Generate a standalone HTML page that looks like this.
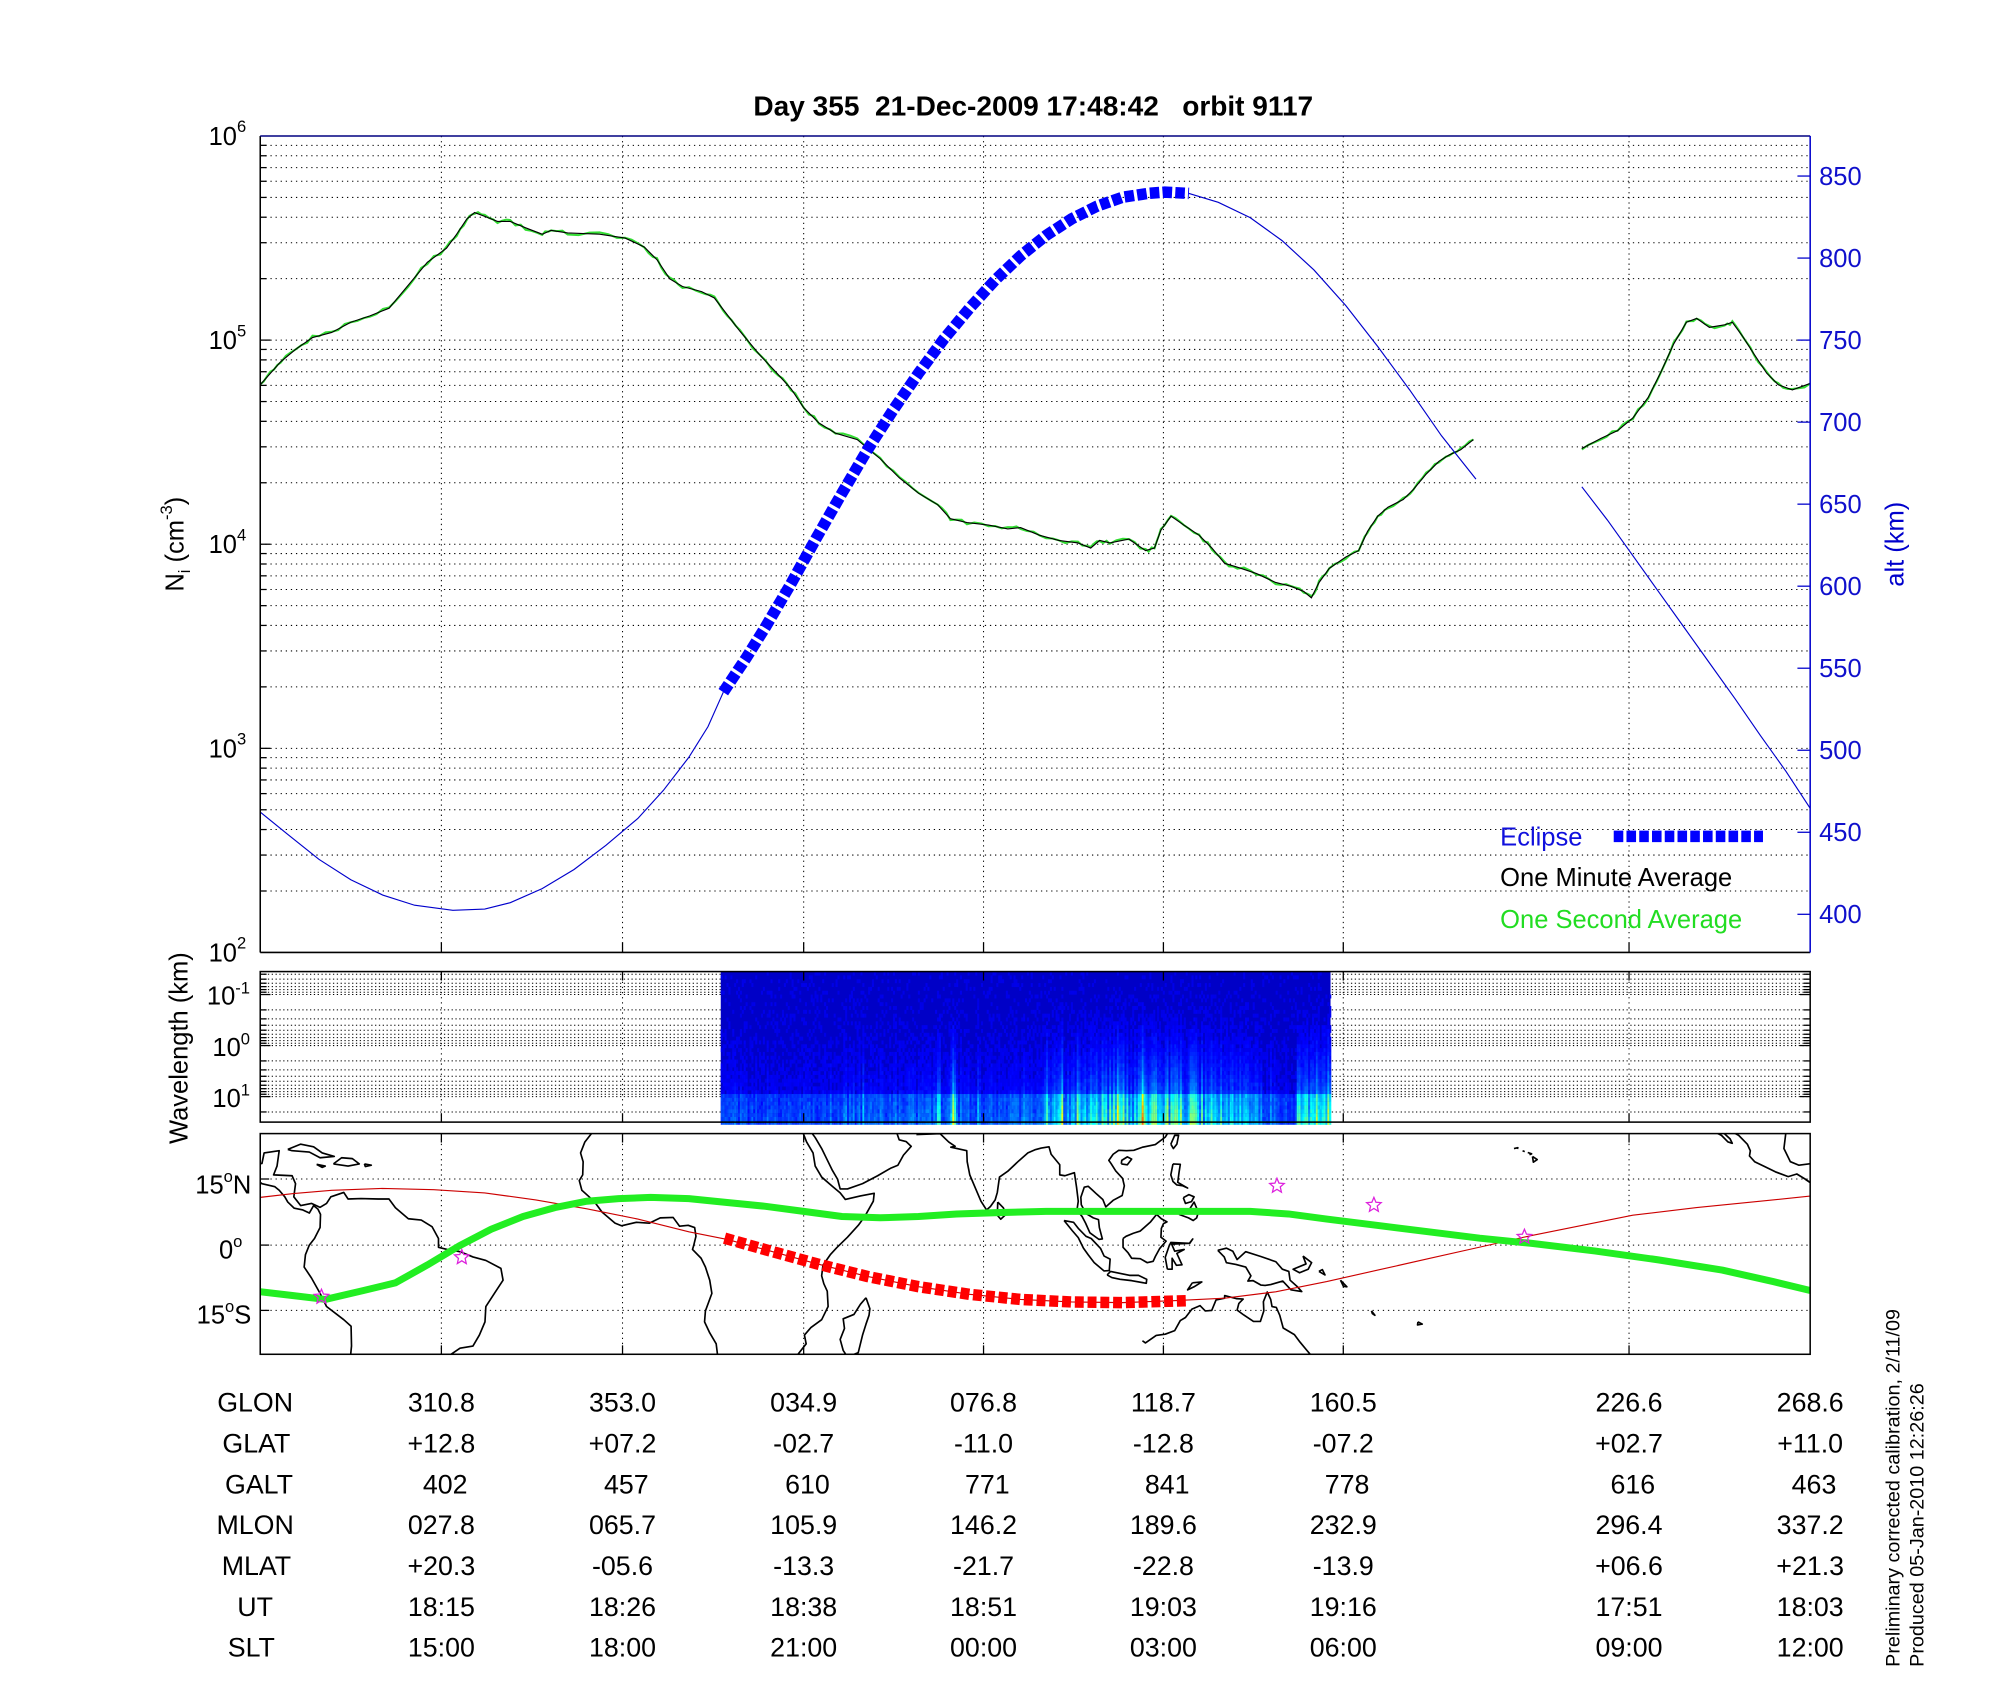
<!DOCTYPE html>
<html><head><meta charset="utf-8">
<style>
html,body{margin:0;padding:0;background:#fff;}
svg{display:block;}
text{font-family:"Liberation Sans",Arial,sans-serif;}
</style></head>
<body>
<svg id="s" xmlns="http://www.w3.org/2000/svg" width="2000" height="1700" viewBox="0 -1.6 1567.8 1332.6" preserveAspectRatio="none">
<rect x="0" y="-2" width="1570" height="1340" fill="#fff"/>
<defs>
<clipPath id="mapclip"><rect x="204" y="887" width="1215" height="173"/></clipPath>
<clipPath id="mainclip"><rect x="204" y="105" width="1215" height="640"/></clipPath>
</defs>
<g id="grid"></g>
<g id="spec"></g>
<g id="curves"></g>
<g id="map" clip-path="url(#mapclip)"></g>
<g id="frames"></g>

<text x="810" y="89" font-size="22" font-weight="bold" text-anchor="middle" xml:space="preserve">Day 355  21-Dec-2009 17:48:42   orbit 9117</text>

<g font-size="20" text-anchor="end">
<text x="193" y="112">10<tspan font-size="13" dy="-10">6</tspan></text>
<text x="193" y="272">10<tspan font-size="13" dy="-10">5</tspan></text>
<text x="193" y="432">10<tspan font-size="13" dy="-10">4</tspan></text>
<text x="193" y="592">10<tspan font-size="13" dy="-10">3</tspan></text>
<text x="193" y="752">10<tspan font-size="13" dy="-10">2</tspan></text>
</g>
<text transform="translate(144,425) rotate(-90)" font-size="20" text-anchor="middle">N<tspan font-size="13" dy="5">i</tspan><tspan dy="-5"> (cm</tspan><tspan font-size="13" dy="-9">-3</tspan><tspan dy="9">)</tspan></text>
<text transform="translate(1492,425) rotate(-90)" font-size="20" text-anchor="middle" fill="#0000cc">alt (km)</text>

<g font-size="20" fill="#1010cc" id="altlabels"></g>

<text x="1176" y="661" font-size="20" fill="#1010dd">Eclipse</text>
<line x1="1265" y1="654" x2="1382" y2="654" stroke="#0000ff" stroke-width="9" stroke-dasharray="7.5,2.5"/>
<text x="1176" y="693" font-size="20" fill="#000">One Minute Average</text>
<text x="1176" y="726" font-size="20" fill="#22dd22">One Second Average</text>

<g font-size="20" text-anchor="end">
<text x="196" y="786">10<tspan font-size="13" dy="-9">-1</tspan></text>
<text x="196" y="826">10<tspan font-size="13" dy="-9">0</tspan></text>
<text x="196" y="866">10<tspan font-size="13" dy="-9">1</tspan></text>
</g>
<text transform="translate(147,820) rotate(-90)" font-size="20" text-anchor="middle">Wavelength (km)</text>

<g font-size="20" text-anchor="end">
<text x="197" y="934">15<tspan font-size="13" dy="-9">o</tspan><tspan dy="9">N</tspan></text>
<text x="190" y="985">0<tspan font-size="13" dy="-9">o</tspan></text>
<text x="197" y="1036">15<tspan font-size="13" dy="-9">o</tspan><tspan dy="9">S</tspan></text>
</g>

<g font-size="21" text-anchor="middle" id="table"></g>

<text transform="translate(1489,1305) rotate(-90)" font-size="15.5">Preliminary corrected calibration, 2/11/09</text>
<text transform="translate(1508,1305) rotate(-90)" font-size="15.5">Produced 05-Jan-2010 12:26:26</text>
</svg>
<script>
(function(){
var NS="http://www.w3.org/2000/svg";
function el(p,tag,attrs,txt){var e=document.createElementNS(NS,tag);for(var k in attrs)e.setAttribute(k,attrs[k]);if(txt!==undefined)e.textContent=txt;p.appendChild(e);return e;}
var G=document.getElementById('grid'),F=document.getElementById('frames'),C=document.getElementById('curves'),S=document.getElementById('spec'),M=document.getElementById('map');
var L=204,R=1419,T=105,B=745;
var xg=[346,488,630,771,912,1053,1277];
var dot={stroke:"#000","stroke-width":"0.8","stroke-dasharray":"1,3"};
for(var d=0;d<4;d++){var base=B-160*d;for(var m=1;m<=9;m++){var y=base-160*Math.log10(m);if(m==1&&d==0)continue;
 el(G,'line',Object.assign({x1:L,x2:R,y1:y,y2:y},dot));
 el(F,'line',{x1:L,x2:L+(m==1?8:5),y1:y,y2:y,stroke:"#000","stroke-width":1});}}
xg.forEach(function(x){el(G,'line',Object.assign({x1:x,x2:x,y1:T,y2:B},dot));
 el(F,'line',{x1:x,x2:x,y1:B,y2:B-8,stroke:"#000","stroke-width":1});});
var AL=document.getElementById('altlabels');
for(var a=400;a<=850;a+=50){var y=136.4+(850-a)/50*64.3;
 el(F,'line',{x1:R-10,x2:R,y1:y,y2:y,stroke:"#0000cc","stroke-width":1});
 el(AL,'text',{x:1426,y:y+7},String(a));}
el(F,'line',{x1:L,y1:B,x2:R,y2:B,stroke:"#000","stroke-width":1.2});
el(F,'line',{x1:L,y1:T,x2:L,y2:B,stroke:"#000","stroke-width":1.2});
el(F,'line',{x1:L,y1:T,x2:R,y2:T,stroke:"#000080","stroke-width":1.2});
el(F,'line',{x1:R,y1:T,x2:R,y2:B,stroke:"#0000cc","stroke-width":1.2});

var sT=760,sB=878;
function specY(v){return 818+40*Math.log10(v);}
var vals=[];for(var e=-2;e<=1;e++)for(var m=1;m<=9;m++)vals.push(m*Math.pow(10,e));
vals.forEach(function(v){var y=specY(v);if(y<sT+1||y>sB-1)return;
 el(G,'line',{x1:L,x2:R,y1:y,y2:y,stroke:"#000","stroke-width":"0.8","stroke-dasharray":"1,2"});
 var maj=Math.abs(Math.log10(v)-Math.round(Math.log10(v)))<1e-6;
 el(F,'line',{x1:L,x2:L+(maj?8:5),y1:y,y2:y,stroke:"#000","stroke-width":1});
 el(F,'line',{x1:R,x2:R-(maj?8:5),y1:y,y2:y,stroke:"#000","stroke-width":1});});
xg.forEach(function(x){el(G,'line',Object.assign({x1:x,x2:x,y1:sT,y2:sB},dot));
 el(F,'line',{x1:x,x2:x,y1:sB,y2:sB-7,stroke:"#000","stroke-width":1});el(F,'line',{x1:x,x2:x,y1:sT,y2:sT+7,stroke:"#000","stroke-width":1});});
el(F,'rect',{x:L,y:sT,width:R-L,height:sB-sT,fill:"none",stroke:"#000","stroke-width":1.2});

var seed=12345;function rnd(){seed=(seed*1103515245+12345)%2147483648;return seed/2147483648;}
function jet(v){v=Math.max(0,Math.min(1,v));function c(x){return Math.round(255*Math.max(0,Math.min(1,x)));}
 return "rgb("+c(1.5-Math.abs(4*v-3))+","+c(1.5-Math.abs(4*v-2))+","+c(1.5-Math.abs(4*v-1))+")";}
el(S,'rect',{x:565,y:sT,width:478,height:sB-sT,fill:jet(0.07)});
function env(x){var e=0.05;
 if(x>800&&x<1000)e+=0.18*Math.sin((x-800)/200*Math.PI)+0.04;
 if(x>1015&&x<1043)e+=0.22;
 if(x>660&&x<800)e+=0.03;
 if(Math.abs(x-735)<1.5||Math.abs(x-747)<1.5)e+=0.3;
 return e;}
for(var x=565;x<1043;x+=1.5){var act=env(x)*(0.3+rnd()*1.0);if(rnd()<0.07)act*=1.7;
 for(var y=sT;y<sB;y+=3){var f=Math.pow((y-sT)/(sB-sT),2.4);var v=0.07+act*f*1.0+rnd()*0.035;
  if(y>=856)v+=0.03+act*0.3+rnd()*0.04;
  if(v>0.1)el(S,'rect',{x:x,y:y,width:1.6,height:3.1,fill:jet(v)});}}

var dp=[[204,300],[212,291],[220,282],[232,272],[245,263],[260,259],[275,251],[290,246],[305,240],[320,222],[335,204],[350,193],[358,182],[366,170],[372,165],[380,168],[390,172],[400,172],[412,177],[425,182],[432,179],[445,181],[470,182],[490,185],[505,192],[515,202],[525,217],[535,223],[550,227],[560,232],[570,245],[580,258],[595,276],[610,292],[620,303],[630,318],[642,330],[655,338],[672,343],[690,358],[705,373],[720,385],[735,394],[745,405],[758,408],[775,410],[790,413],[800,412],[815,418],[830,422],[845,424],[855,428],[862,422],[870,424],[885,421],[898,430],[905,428],[910,414],[918,403],[928,410],[940,418],[950,428],[960,440],[970,443],[985,448],[1000,455],[1012,458],[1022,462],[1028,467],[1034,455],[1042,444],[1055,435],[1065,430],[1072,415],[1080,403],[1088,396],[1100,390],[1108,382],[1118,370],[1128,360],[1136,355],[1145,351],[1155,343]];
var dp2=[[1240,350],[1255,342],[1268,336],[1280,326],[1292,310],[1302,290],[1312,268],[1322,251],[1330,248],[1340,255],[1352,253],[1358,251],[1366,262],[1375,276],[1385,291],[1394,300],[1405,304],[1419,299]];
function pts(a){return a.map(function(p){return p[0]+","+p[1];}).join(" ");}
function jit(a){var o=[];for(var i=0;i<a.length-1;i++){var p=a[i],q=a[i+1];for(var t=0;t<1;t+=0.34){o.push([p[0]+(q[0]-p[0])*t,p[1]+(q[1]-p[1])*t+(rnd()-0.5)*3]);}}o.push(a[a.length-1]);return o;}
var CC=el(C,'g',{"clip-path":"url(#mainclip)"});
[dp,dp2].forEach(function(a){el(CC,'polyline',{points:pts(jit(a)),fill:"none",stroke:"#33dd33","stroke-width":1.6});
 el(CC,'polyline',{points:pts(a),fill:"none",stroke:"#000","stroke-width":0.9});});
var al1=[[204,635],[225,652],[250,672],[275,688],[300,700],[325,708],[355,712],[380,711],[400,706],[425,695],[450,680],[475,661],[500,640],[520,618],[540,592],[555,568],[567,541]];
var ecl=[[567,541],[585,514],[600,490],[620,456],[640,420],[660,385],[680,351],[700,320],[720,291],[740,264],[760,240],[780,218],[800,199],[820,183],[840,170],[860,160],[880,153],[900,150],[913,149],[932,150]];
var al2=[[932,150],[955,157],[980,169],[1005,187],[1030,210],[1055,238],[1080,270],[1105,304],[1130,340],[1157,374]];
var al3=[[1240,380],[1260,406],[1280,434],[1300,462],[1320,490],[1340,518],[1360,546],[1380,575],[1400,603],[1419,632]];
[al1,al2,al3].forEach(function(a){el(CC,'polyline',{points:pts(a),fill:"none",stroke:"#0000cc","stroke-width":0.9});});
el(CC,'polyline',{points:pts(ecl),fill:"none",stroke:"#0000ff","stroke-width":9,"stroke-dasharray":"7.5,2.5"});

var mT=887,mB=1060;
[922.6,974.4,1025.6].forEach(function(y){el(G,'line',Object.assign({x1:L,x2:R,y1:y,y2:y},dot));el(F,'line',{x1:L,x2:L+7,y1:y,y2:y,stroke:"#000","stroke-width":1});});
xg.forEach(function(x){el(G,'line',Object.assign({x1:x,x2:x,y1:mT,y2:mB},dot));
 el(F,'line',{x1:x,x2:x,y1:mB,y2:mB-7,stroke:"#000","stroke-width":1});el(F,'line',{x1:x,x2:x,y1:mT,y2:mT+7,stroke:"#000","stroke-width":1});});
el(F,'rect',{x:L,y:mT,width:R-L,height:mB-mT,fill:"none",stroke:"#000","stroke-width":1.2});
function P(lon,lat){return [204+(lon+91.4)*3.375,974.4-lat*3.44];}
var coasts=[
 [[-97,26],[-97.5,22],[-96,19],[-94,18.2],[-91,18.6],[-90.5,21],[-87,21.5],[-87.5,18],[-88.3,16],[-84,15.8],[-83.2,14],[-83.6,11],[-82,9],[-79.5,9.5],[-77.5,8.6],[-76,9.5],[-75,11],[-72,12],[-71,10.5],[-68,10.6],[-64,10.5],[-61.5,10.5],[-60,8.5],[-57,6],[-54,5.7],[-51.5,4.2],[-50,1.5],[-50,-0.5],[-48,-1],[-45,-1.5],[-42,-2.7],[-39,-3.5],[-35.5,-5.3],[-35,-8],[-37,-11],[-39,-14],[-39.2,-17.5],[-40.5,-20.5],[-42,-23],[-45,-23.5],[-48,-25.5],[-48.5,-28]],
 [[-92.5,15],[-91,14],[-88,13.3],[-87,12.5],[-85.7,11],[-85,9.8],[-83.5,8.4],[-81.5,8],[-80,7.3],[-79,9],[-78,8.2],[-77.4,7],[-77.5,4],[-78.8,1.5],[-80,0],[-80.9,-2.2],[-81.2,-5],[-79.5,-7.5],[-77.5,-11],[-76,-14],[-72,-17],[-70.3,-18.5],[-70.2,-23],[-70.6,-27]],
 [[-85,21.8],[-82,23],[-79,22.4],[-77,21],[-74.2,20.2],[-77.5,19.9],[-80,21.2],[-84,21.5],[-85,21.8]],
 [[-74.4,18.5],[-72.5,19.9],[-70,19.7],[-68.4,18.5],[-71,18],[-74.4,18.5]],
 [[-78.3,18.4],[-76.3,18],[-77,17.7],[-78.3,18.4]],
 [[-67.2,18.5],[-65.6,18.2],[-67,17.9],[-67.2,18.5]],
 [[-14,26],[-16,23.5],[-17,21],[-16.4,19],[-16.5,16],[-17.3,14.7],[-16.7,12.5],[-15,11],[-13.5,9.5],[-12,7.5],[-9,5],[-7.5,4.4],[-4,5.2],[-1,5],[1.5,6.2],[4.5,6.3],[6,4.3],[8,4.5],[9.5,4],[9.8,2],[9.3,0],[9,-1],[11,-3],[12,-5],[13,-8],[13.5,-11],[12,-15],[11.8,-17.5],[13,-20],[14.5,-22.5],[15,-26.5]],
 [[32.5,29],[34.5,26],[35.5,23.5],[37,21],[37.5,18],[39,15.5],[41.6,13.3],[43.3,11.9],[44.5,10.4],[48,11.2],[51.2,11.8],[51,10],[49,6.5],[47.5,4.5],[45,1.8],[42.5,-0.6],[41,-2.2],[39.3,-4.6],[39,-7],[39.5,-8.8],[40.3,-10.5],[40.5,-14],[39,-17],[36.5,-18.8],[35,-20.5],[35.4,-22.5],[33,-25.5],[32.8,-27]],
 [[34.8,28],[36,26.5],[37.5,24.5],[39,22],[40,20],[41.5,17],[42.7,15],[43.3,12.8],[45,12.8],[48.5,14],[52,15.8],[55,17.5],[56.7,18.2],[58,20.5],[59.8,22.5],[58.6,23.6],[57,24],[56.3,26]],
 [[49.3,-12],[50.2,-14.5],[50,-16],[49.3,-18],[48.5,-20.5],[47.5,-24.5],[45,-25.5],[44,-24],[43.3,-21.5],[44.3,-19],[44,-16.8],[46.5,-15.8],[48,-13.5],[49.3,-12]],
 [[61,25.2],[66.5,25.4],[68.5,23.5],[70,22.5],[69,22.3],[72.7,21.5],[72.8,19],[73.4,16],[74.7,13],[76,10],[77.3,8],[78.2,8.8],[79.3,10.3],[79.8,12],[80.3,15.5],[82.2,16.8],[84.8,19.2],[86.9,21],[88.5,21.7],[90,22.1],[91.8,22.4],[92.3,20.7],[94.3,18.3],[94.3,16],[95.5,15.8],[97.7,16.5],[98.2,13.2],[98.6,10],[98.3,8],[99.5,6.5],[100.3,5],[101.3,2.8],[103.4,1.3],[104.2,1.4],[103.5,4],[103.3,5.8],[102.1,6.2],[100.4,7.2],[99.3,9.2],[99.2,10.9],[100,13.2],[100.9,13.4],[101.8,12.6],[102.9,11.6],[104.3,10.4],[105,8.7],[106.7,10.2],[108.8,11.3],[109.3,13.5],[108.9,15.2],[107.3,16.9],[106.2,18.6],[105.7,19.3],[106.7,20.7],[108,21.6],[109.8,21.5],[111.5,21.6],[113.5,22.3],[116.5,22.9],[118.8,24.6],[120,26.5]],
 [[79.9,9.8],[81.2,8.5],[81.8,7],[80.6,5.9],[79.8,6.8],[79.9,9.8]],
 [[95.3,5.6],[97.5,5.2],[98.7,3.7],[100.4,2],[101.6,1.5],[103.8,-0.8],[104.6,-2.5],[106,-3.2],[105.8,-5.8],[104.6,-5.9],[102.3,-4],[100.9,-2.2],[99.8,-0.7],[98.6,1.7],[97.2,3.3],[95.3,5.6]],
 [[105.3,-6.8],[106.1,-6],[108.5,-6.5],[110.5,-6.9],[112.6,-6.9],[114.5,-7.8],[114.4,-8.7],[111,-8.1],[108.3,-7.8],[106.4,-7.4],[105.3,-6.8]],
 [[109,1.5],[109.7,2],[111.4,2.7],[113,3.2],[115.4,5.3],[116.8,7],[117.9,6],[119.2,5.3],[118.4,4.9],[117.9,3.8],[117.8,1.8],[119,0.9],[117.5,-0.8],[116.5,-2.6],[116,-3.7],[114.6,-4],[113,-3.1],[111,-3],[110.2,-1.8],[109,-0.5],[109,1.5]],
 [[119.3,-5.5],[120.4,-5.5],[120.4,-3],[121.4,-4.6],[122.7,-4.5],[121.5,-1.9],[123.2,-1],[121,-1.4],[120.3,0.2],[124.5,0.4],[125.2,1.4],[124.4,0.4],[120.1,0.6],[119.7,-0.2],[118.8,-2.8],[119.3,-5.5]],
 [[120.6,18.5],[122.3,18.4],[122,16.5],[121.7,14.3],[124,13],[122.9,13.5],[121.5,13.7],[120.6,14.5],[120.1,16],[120.6,18.5]],
 [[122,7],[124,7.5],[125.5,9.8],[126.5,7.5],[126.1,6.2],[125.3,5.6],[124.2,6.2],[122,7]],
 [[123,10.8],[124.3,11.5],[125.5,11],[124.9,9.9],[123.5,9.5],[123,10.8]],
 [[120.1,23],[120.7,22],[121.5,23],[121.9,25],[121,25],[120.1,23]],
 [[108.6,18.5],[110,18.3],[111,19.6],[110,20.1],[108.7,19.3],[108.6,18.5]],
 [[131,-1.2],[133,-0.7],[134.5,-1.4],[135.5,-3.3],[137.5,-1.5],[141,-2.6],[144.5,-3.8],[146,-5.5],[147.5,-6],[147.8,-8],[149.5,-9.5],[150.5,-10.6],[148,-10.2],[146.1,-8.2],[143.3,-9],[142,-9.2],[141,-9.1],[139.2,-8.1],[138,-8.2],[138.7,-7],[137.5,-5],[135.2,-4.4],[133,-4],[132.5,-2.7],[131,-1.2]],
 [[113.5,-21.8],[114.2,-22.3],[116.7,-20.6],[118.8,-20.3],[121,-19.5],[122.3,-17.2],[123.5,-16.5],[125,-14.6],[126.9,-13.8],[128.1,-15],[129.6,-14.9],[130.6,-12.5],[132.6,-12.1],[132.6,-11.5],[135.3,-12.2],[136.9,-12.3],[135.9,-13.3],[135.5,-14.8],[137,-15.9],[139.3,-17.4],[140.9,-17.4],[141.7,-15],[141.6,-12.9],[142.5,-10.7],[143.3,-12.4],[143.6,-14],[144.6,-14.2],[145.4,-16],[146.2,-18.9],[148.8,-20.4],[150.1,-22.1],[151.7,-24],[153.1,-25.6],[153.5,-28]],
 [[125.1,-8.6],[127.3,-8.4],[125.5,-9.5],[124,-10.2],[125.1,-8.6]],
 [[150.8,-2.5],[152.8,-4],[152,-5.5],[150,-6.3],[148.5,-5.5],[151.5,-4.3],[150.8,-2.5]],
 [[154.5,-6],[155.9,-6.8],[155.3,-5.6],[154.5,-6]],
 [[159.5,-8],[161,-9.5],[160.2,-9.4],[159.5,-8]],
 [[166.7,-15],[167.5,-16],[166.9,-15.6],[166.7,-15]],
 [[177.5,-17.5],[178.5,-18],[177.4,-18.2],[177.5,-17.5]],
 [[-160.2,22],[-159.3,22.2],[-159.4,21.9]],[[-158.2,21.5],[-157.7,21.3]],[[-157,21.1],[-156.1,20.8],[-156.6,20.6]],[[-155.9,20.2],[-154.8,19.5],[-155.7,18.9],[-155.9,20.2]],
 [[-114,26],[-112,25],[-110.5,23.5],[-109.5,23.2],[-110,24.2],[-112,26]],
 [[-112,28],[-109.5,25.8],[-108,25],[-106,23],[-105.3,21.5],[-105.5,20.3],[-104.3,19],[-102,17.9],[-99.5,16.7],[-96.5,15.6],[-94.5,16.2],[-92.5,15],[-91,14]]
];
var MG=el(M,'g',{});
coasts.forEach(function(c){var p=c.map(function(q){return P(q[0],q[1]);});
 [0,1215,-1215].forEach(function(off){el(MG,'polyline',{points:p.map(function(z){return (z[0]+off)+","+z[1];}).join(" "),fill:"none",stroke:"#000","stroke-width":1.3,"stroke-linejoin":"round"});});});
var red=[[204,937],[230,934],[260,931.5],[300,930],[340,931],[380,933.5],[420,939],[460,946],[500,954],[540,964],[570,970],[600,978],[640,989],[680,999],[720,1007],[760,1013],[800,1017],[840,1019],[880,1019.5],[920,1018],[960,1016],[1000,1011],[1040,1003],[1080,994],[1120,985],[1160,976],[1200,967],[1240,959],[1280,951],[1330,945],[1380,940],[1419,936]];
el(M,'polyline',{points:pts(red),fill:"none",stroke:"#cc0000","stroke-width":0.9});
var redT=[[568,969],[600,978],[640,989],[680,999],[720,1007],[760,1013],[800,1017],[840,1019],[880,1019.5],[931,1018]];
el(M,'polyline',{points:pts(redT),fill:"none",stroke:"#ff0000","stroke-width":9,"stroke-dasharray":"7,3"});
var grn=[[204,1011],[230,1014],[255,1017],[285,1010],[310,1004],[335,990],[360,975],[385,962],[410,952],[435,945],[460,940],[485,938],[510,937],[540,938],[570,941],[600,944],[630,948],[660,952],[690,953],[720,952],[750,950],[780,949],[820,948],[860,948],[900,948],[940,948],[980,948],[1010,950],[1040,954],[1080,959],[1120,964],[1160,969],[1200,973],[1250,979],[1300,986],[1350,994],[1390,1003],[1419,1010]];
el(M,'polyline',{points:pts(grn),fill:"none",stroke:"#22ee22","stroke-width":5.5,"stroke-linejoin":"round"});
function star(cx,cy,r){var s=[];for(var i=0;i<10;i++){var rr=i%2?r*0.45:r;var an=-Math.PI/2+i*Math.PI/5;s.push((cx+rr*Math.cos(an)).toFixed(1)+","+(cy+rr*Math.sin(an)).toFixed(1));}
 el(M,'polygon',{points:s.join(" "),fill:"none",stroke:"#dd22dd","stroke-width":1});}
[[252,1015],[362,984],[1001,928],[1077,943],[1195,968]].forEach(function(p){star(p[0],p[1],6);});

var TB=document.getElementById('table');
var rows=[["GLON","310.8","353.0","034.9","076.8","118.7","160.5","226.6","268.6"],
["GLAT","+12.8","+07.2","-02.7","-11.0","-12.8","-07.2","+02.7","+11.0"],
["GALT","402","457","610","771","841","778","616","463"],
["MLON","027.8","065.7","105.9","146.2","189.6","232.9","296.4","337.2"],
["MLAT","+20.3","-05.6","-13.3","-21.7","-22.8","-13.9","+06.6","+21.3"],
["UT","18:15","18:26","18:38","18:51","19:03","19:16","17:51","18:03"],
["SLT","15:00","18:00","21:00","00:00","03:00","06:00","09:00","12:00"]];
var lx=[200,201,203,200,201,200,197];
var cx=[346,488,630,771,912,1053,1277,1419];
rows.forEach(function(r,i){var y=1105+i*32;
 el(TB,'text',{x:lx[i],y:y},r[0]);
 for(var j=1;j<r.length;j++){var xx=cx[j-1];if(i==2)xx+=3;el(TB,'text',{x:xx,y:y},r[j]);}});
})();
</script>
</body></html>
